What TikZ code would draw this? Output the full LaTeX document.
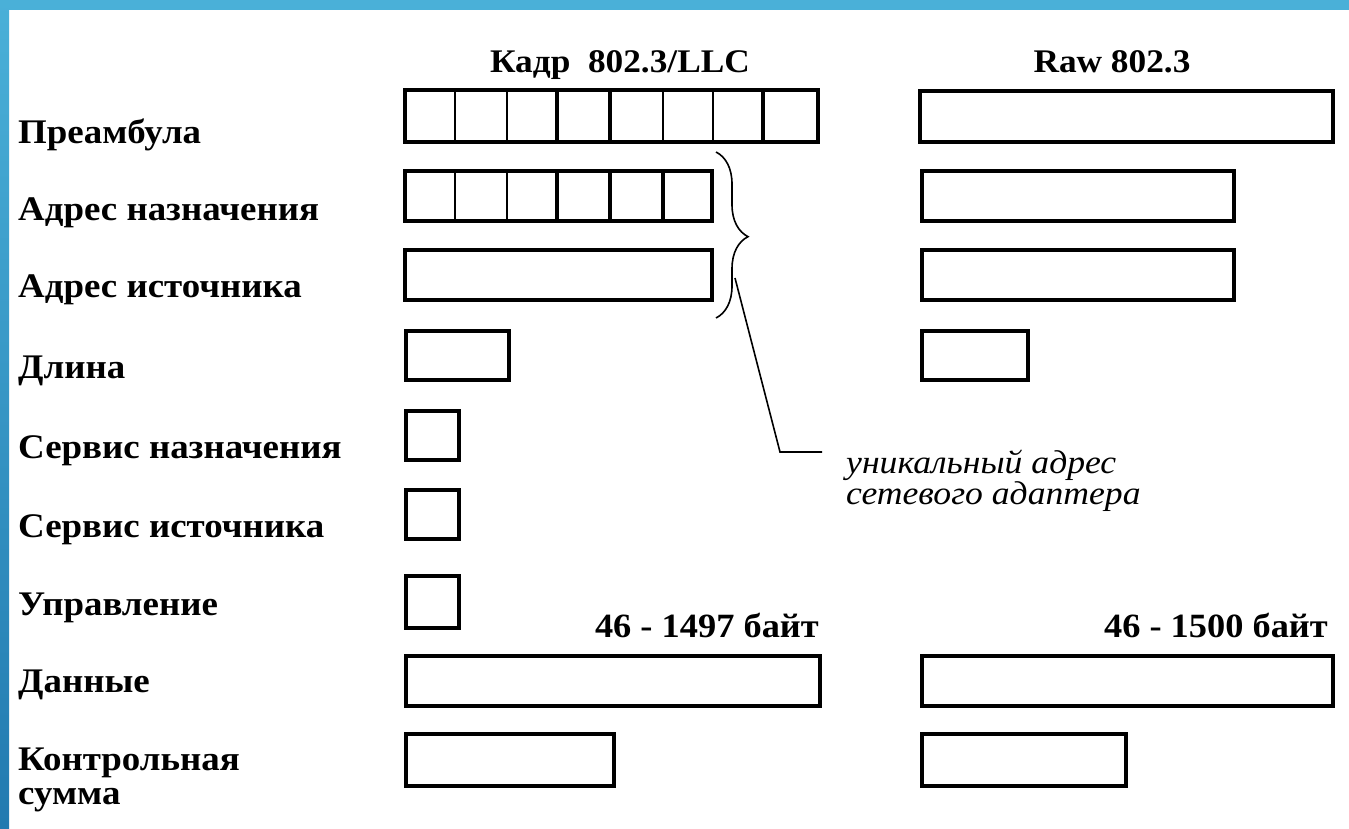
\documentclass[tikz,border=0pt]{standalone}
\usepackage{fontspec}
\setmainfont{Liberation Serif}
\newfontfamily\widefont[FakeStretch=1.07]{Liberation Serif}
\newfontfamily\notefont[FakeStretch=1.08]{Liberation Serif}
\usetikzlibrary{decorations.pathreplacing}
\definecolor{barblue}{RGB}{74,176,216}
\definecolor{bardark}{RGB}{34,122,176}
\tikzset{
  frame/.style={line width=3.5pt, line join=miter},
  thin div/.style={line width=2.2pt},
  thick div/.style={line width=4pt},
  lbl/.style={anchor=base west, inner sep=0pt, font=\widefont\fontsize{34.5}{38}\selectfont\bfseries},
  ttl/.style={anchor=base, inner sep=0pt, font=\widefont\fontsize{33}{38}\selectfont\bfseries},
  sz/.style={anchor=base east, inner sep=0pt, font=\widefont\fontsize{34}{38}\selectfont\bfseries},
  note/.style={anchor=base west, inner sep=0pt, font=\notefont\fontsize{33}{38}\selectfont\itshape},
}
\begin{document}
\begin{tikzpicture}[x=1pt,y=-1pt]
\useasboundingbox (0,0) rectangle (1349,828);
\fill[white] (0,0) rectangle (1349,828);
% blue frame
\fill[barblue] (0,0) rectangle (1349,10);
\shade[top color=barblue, bottom color=bardark] (0,0) rectangle (9,828);

% titles
\node[ttl] (t1) at (620,72) {Кадр\ \ 802.3/LLC};
\node[ttl] (t2) at (1112,72) {Raw 802.3};

% left labels
\node[lbl] (l1) at (18,143) {Преамбула};
\node[lbl] (l2) at (18,220) {Адрес назначения};
\node[lbl] (l3) at (18,297) {Адрес источника};
\node[lbl] (l4) at (18,378) {Длина};
\node[lbl] (l5) at (18,458) {Сервис назначения};
\node[lbl] (l6) at (18,537) {Сервис источника};
\node[lbl] (l7) at (18,615) {Управление};
\node[lbl] (l8) at (18,692) {Данные};
\node[lbl] (l9) at (18,770) {Контрольная};
\node[lbl] (l10) at (18,804) {сумма};

% LLC frame boxes
\draw[frame] (405,90) rectangle (818,142);
\foreach \x in {455,507,663,713} \draw[thin div] (\x,90) -- (\x,142);
\foreach \x in {557,610,763} \draw[thick div] (\x,90) -- (\x,142);
\draw[frame] (405,171) rectangle (712,221);
\foreach \x in {455,507} \draw[thin div] (\x,171) -- (\x,221);
\foreach \x in {557,610,663} \draw[thick div] (\x,171) -- (\x,221);
\draw[frame] (405,250) rectangle (712,300);
\draw[frame] (406,331) rectangle (509,380);
\draw[frame] (406,411) rectangle (459,460);
\draw[frame] (406,490) rectangle (459,539);
\draw[frame] (406,576) rectangle (459,628);
\draw[frame] (406,656) rectangle (820,706);
\draw[frame] (406,734) rectangle (614,786);

% Raw frame boxes
\draw[frame] (920,91) rectangle (1333,142);
\draw[frame] (922,171) rectangle (1234,221);
\draw[frame] (922,250) rectangle (1234,300);
\draw[frame] (922,331) rectangle (1028,380);
\draw[frame] (922,656) rectangle (1333,706);
\draw[frame] (922,734) rectangle (1126,786);

% sizes
\node[sz] (s1) at (819,637) {46 - 1497 байт};
\node[sz] (s2) at (1328,637) {46 - 1500 байт};

% brace and note
\draw[line width=1.6pt, decorate, decoration={brace, amplitude=32pt, aspect=0.51}] (716,152) -- (716,318);
\coordinate (bstart) at (735,278);
\coordinate (bend) at (780,452);
\coordinate (bhoriz) at (822,452);
\node[note] (n1) at (846,473) {уникальный адрес};
\node[note] (n2) at (846,504) {сетевого адаптера};
\draw[line width=1.6pt] (bstart) -- (bend) -- (bhoriz);
\end{tikzpicture}
\end{document}
